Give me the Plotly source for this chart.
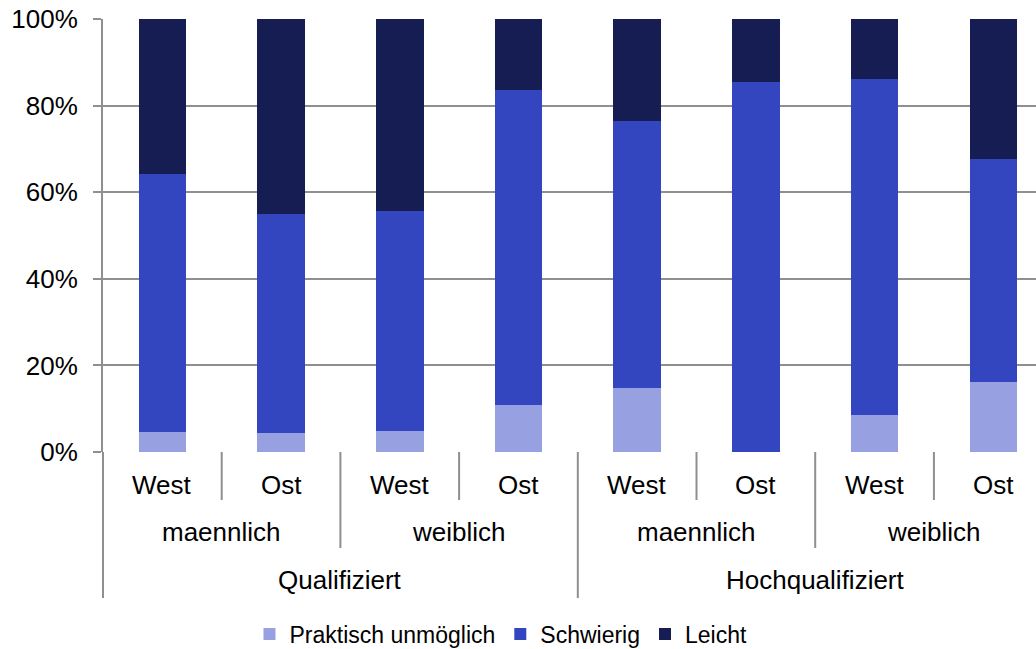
import plotly.graph_objects as go

# Category hierarchy (three levels) for the eight bars
regions = ["West", "Ost", "West", "Ost", "West", "Ost", "West", "Ost"]
genders = ["maennlich", "weiblich", "maennlich", "weiblich"]
qualifications = ["Qualifiziert", "Hochqualifiziert"]

# Shares in percent (each bar sums to 100)
praktisch_unmoeglich = [4.7, 4.3, 4.9, 10.8, 14.8, 0.0, 8.6, 16.2]
schwierig = [59.5, 50.6, 50.8, 72.7, 61.6, 85.4, 77.5, 51.4]
leicht = [35.8, 45.1, 44.3, 16.5, 23.6, 14.6, 13.9, 32.4]

series_names = ["Praktisch unmöglich", "Schwierig", "Leicht"]
series_colors = ["#97A0E0", "#3346C0", "#161D52"]

FONT = "Liberation Sans, Arial, sans-serif"
GRID = "#8f8f8f"
LABEL_SIZE = 26

x_idx = list(range(len(regions)))

fig = go.Figure()
for name, vals, col in zip(series_names, [praktisch_unmoeglich, schwierig, leicht], series_colors):
    fig.add_trace(go.Bar(
        x=x_idx, y=vals, name=name, width=0.4,
        marker=dict(color=col, line=dict(width=0)),
    ))

# Paper-space offsets of the label rows below the axis
plot_h = 433.0
def below(px):
    return -px / plot_h

annotations = []
shapes = []

label_font = dict(size=LABEL_SIZE, family=FONT, color="black")

# Level 1: region labels
for i, r in enumerate(regions):
    annotations.append(dict(x=i, y=below(33), xref="x", yref="paper", text=r,
                            showarrow=False, yanchor="middle", font=label_font))
# Level 2: gender labels (span two bars each)
for g, lab in enumerate(genders):
    annotations.append(dict(x=2 * g + 0.5, y=below(80), xref="x", yref="paper", text=lab,
                            showarrow=False, yanchor="middle", font=label_font))
# Level 3: qualification labels (span four bars each)
for q, lab in enumerate(qualifications):
    annotations.append(dict(x=4 * q + 1.5, y=below(128), xref="x", yref="paper", text=lab,
                            showarrow=False, yanchor="middle", font=label_font))

# Separators between the category groups
n = len(regions)
for b in range(1, n):
    if b % 4 == 0:
        depth = 146
    elif b % 2 == 0:
        depth = 96
    else:
        depth = 48
    shapes.append(dict(type="line", xref="x", yref="paper", x0=b - 0.5, x1=b - 0.5,
                       y0=0, y1=below(depth), line=dict(color=GRID, width=2)))
shapes.append(dict(type="line", xref="paper", yref="paper", x0=0, x1=0,
                   y0=0, y1=below(146), line=dict(color=GRID, width=2)))

fig.update_layout(
    width=1036, height=649,
    margin=dict(l=103, r=0, t=19, b=197, autoexpand=False),
    barmode="stack",
    plot_bgcolor="white", paper_bgcolor="white",
    font=dict(family=FONT, size=LABEL_SIZE, color="black"),
    showlegend=True,
    legend=dict(orientation="h", traceorder="normal",
                x=0.157, xanchor="left", y=below(182), yanchor="middle",
                font=dict(size=23, family=FONT, color="black"),
                itemwidth=30, tracegroupgap=0),
    annotations=annotations,
    shapes=shapes,
    bargap=0.6,
)
fig.update_xaxes(range=[-0.5, 7.36], showticklabels=False, showgrid=False,
                 zeroline=False, showline=False, ticks="")
fig.update_yaxes(range=[0, 100], dtick=20, ticksuffix="%", showgrid=True,
                 gridcolor=GRID, gridwidth=2, zeroline=False,
                 showline=True, linecolor=GRID, linewidth=2,
                 ticks="outside", ticklen=8, tickcolor=GRID, tickwidth=2,
                 ticklabelstandoff=10,
                 tickfont=dict(size=LABEL_SIZE, family=FONT, color="black"))

fig.write_html("out.html")
